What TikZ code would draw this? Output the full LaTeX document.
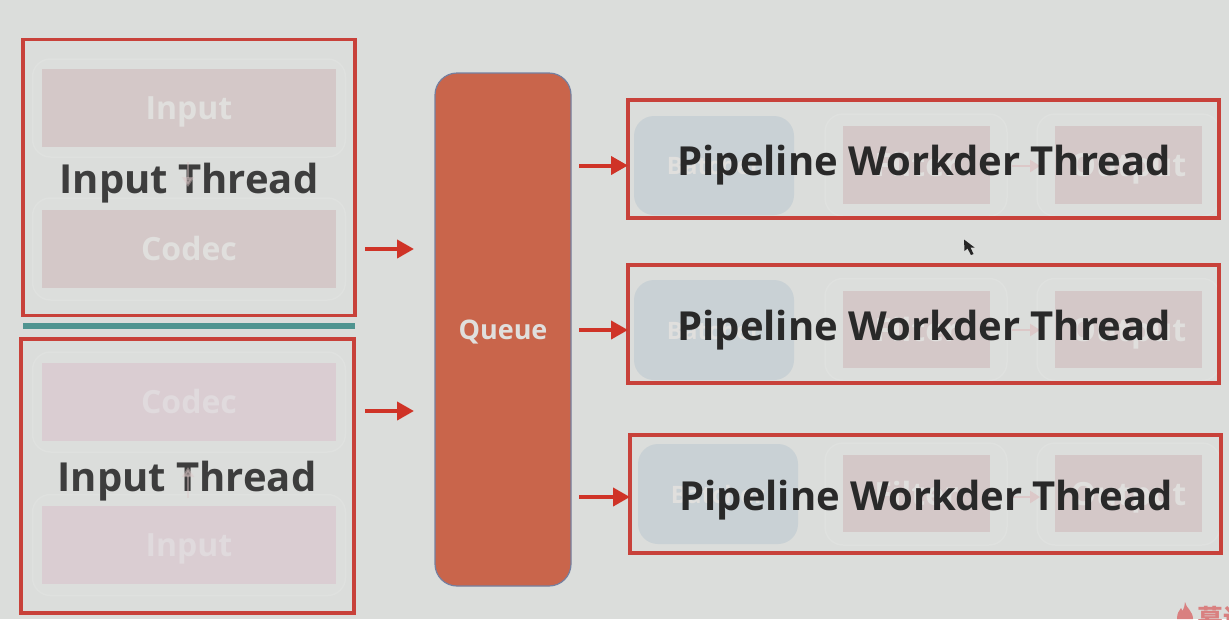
\documentclass[tikz,border=0pt]{standalone}
\usepackage{fontspec}
\setmainfont{Open Sans}
\newfontfamily\cjkfont{Noto Sans CJK SC}
\usetikzlibrary{arrows.meta}

\definecolor{pagegray}{HTML}{DBDDDB}
\definecolor{framered}{HTML}{C8413A}
\definecolor{arrowred}{HTML}{CF3327}
\definecolor{tealbar}{HTML}{4F9490}
\definecolor{queuefill}{HTML}{C9654B}
\definecolor{queueline}{HTML}{7580A0}
\definecolor{pinkone}{HTML}{D4C8C8}
\definecolor{pinktwo}{HTML}{DACDD2}
\definecolor{batchblue}{HTML}{C9D1D5}
\definecolor{ghostfill}{HTML}{DCDEDC}
\definecolor{ghostline}{HTML}{DFE1DF}
\definecolor{fainttext}{HTML}{E0DFDD}
\definecolor{fainttextb}{HTML}{E0DADD}
\definecolor{faintarrow}{HTML}{DCC8C8}
\definecolor{markred}{HTML}{D98080}

\tikzset{
	framebox/.style={draw=framered, line width=3.5pt, outer sep=0pt, inner sep=0pt},
	ghostbox/.style={draw=ghostline, fill=ghostfill, line width=1.5pt, rounded corners=18pt, outer sep=0pt},
	pinkbox/.style={fill=pinkone, outer sep=0pt, inner sep=0pt, text=fainttext, text height=23pt, text depth=0pt, font=\bfseries\fontsize{32}{38}\selectfont},
	pinkboxb/.style={pinkbox, fill=pinktwo, text=fainttextb},
	batchbox/.style={fill=batchblue, rounded corners=20pt, outer sep=0pt, text=fainttext, font=\bfseries\fontsize{24}{30}\selectfont},
	title/.style={font=\bfseries\fontsize{40}{48}\selectfont, inner sep=0pt, anchor=base},
	flow/.style={-{Triangle[length=17pt,width=18pt,fill=arrowred]}, draw=arrowred, line width=4pt},
	faintflow/.style={-{Triangle[length=10pt,width=12pt,fill=faintarrow]}, draw=faintarrow, line width=2.5pt},
}

\begin{document}
\begin{tikzpicture}[x=1pt,y=-1pt]
	\useasboundingbox[fill=pagegray] (0,0) rectangle (1229,619);

	% left side, upper thread
	\node[ghostbox, minimum width=313pt, minimum height=98pt] (g1) at (189,108) {};
	\node[ghostbox, minimum width=313pt, minimum height=102pt] (g2) at (189,249) {};
	\node[pinkbox, minimum width=294pt, minimum height=78pt] (input1) at (189,108) {Input};
	\node[pinkbox, minimum width=294pt, minimum height=78pt] (codec1) at (189,249) {Codec};
	\node[title, text=black!76] (thread1) at (189,193) {Input Thread};
	\coordinate (d1) at (188,162);
	\coordinate (d2) at (188,187);
	\path (d1) edge [faintflow, opacity=0.45] (d2);
	\node[framebox, minimum width=332pt, minimum height=276pt] (left1) at (189,177.5) {};

	\node[fill=tealbar, inner sep=0pt, minimum width=332pt, minimum height=6pt] (bar) at (189,326) {};

	% left side, lower thread
	\node[ghostbox, minimum width=313pt, minimum height=100pt] (g3) at (189,402) {};
	\node[ghostbox, minimum width=313pt, minimum height=101pt] (g4) at (189,545) {};
	\node[pinkboxb, minimum width=294pt, minimum height=78pt] (codec2) at (189,402) {Codec};
	\node[pinkboxb, minimum width=294pt, minimum height=78pt] (input2) at (189,545) {Input};
	\node[title, text=black!76] (thread2) at (187,491) {Input Thread};
	\coordinate (d3) at (188,498);
	\coordinate (d4) at (188,467);
	\path (d3) edge [faintflow, opacity=0.45] (d4);
	\node[framebox, minimum width=333pt, minimum height=274pt] (left2) at (187.5,476) {};

	% queue
	\node[draw=queueline, fill=queuefill, line width=1.2pt, rounded corners=22pt, outer sep=0pt,
		minimum width=136pt, minimum height=513pt, text=fainttext, text height=19pt, text depth=0pt,
		font=\bfseries\fontsize{27}{32}\selectfont] (queue) at (503,329.5) {Queue};

	\coordinate (a1) at (365,249);
	\coordinate (b1) at (414,249);
	\coordinate (a2) at (365,411);
	\coordinate (b2) at (414,411);
	\path (a1) edge [flow] (b1);
	\path (a2) edge [flow] (b2);

	% first pipeline
	\node[batchbox, minimum width=160pt, minimum height=99pt] (batch1) at (714,165.5) {Batcher};
	\node[ghostbox, minimum width=182pt, minimum height=102pt] (g5) at (916,165) {};
	\node[ghostbox, minimum width=183pt, minimum height=102pt] (g6) at (1128.5,165) {};
	\node[pinkbox, minimum width=147pt, minimum height=78pt] (filter1) at (916.5,165) {Filter};
	\node[pinkbox, minimum width=147pt, minimum height=78pt] (output1) at (1128.5,165) {Output};
	\coordinate (e1) at (1012,166);
	\coordinate (f1) at (1040,166);
	\path (e1) edge [faintflow] (f1);
	\node[title, text=black!84] (worker1) at (924,175) {Pipeline Workder Thread};
	\node[framebox, minimum width=591pt, minimum height=118pt] (pipe1) at (923.5,159) {};

	% second pipeline
	\node[batchbox, minimum width=160pt, minimum height=100pt] (batch2) at (714,330) {Batcher};
	\node[ghostbox, minimum width=182pt, minimum height=102pt] (g7) at (916,329.5) {};
	\node[ghostbox, minimum width=183pt, minimum height=102pt] (g8) at (1128.5,329.5) {};
	\node[pinkbox, minimum width=147pt, minimum height=77pt] (filter2) at (916.5,329.5) {Filter};
	\node[pinkbox, minimum width=147pt, minimum height=77pt] (output2) at (1128.5,329.5) {Output};
	\coordinate (e2) at (1012,330);
	\coordinate (f2) at (1040,330);
	\path (e2) edge [faintflow] (f2);
	\node[title, text=black!84] (worker2) at (924,340) {Pipeline Workder Thread};
	\node[framebox, minimum width=591pt, minimum height=118pt] (pipe2) at (923.5,324) {};

	% third pipeline
	\node[batchbox, minimum width=160pt, minimum height=100pt] (batch3) at (718,494) {Batcher};
	\node[ghostbox, minimum width=182pt, minimum height=102pt] (g9) at (916,494) {};
	\node[ghostbox, minimum width=183pt, minimum height=102pt] (g10) at (1128.5,494) {};
	\node[pinkbox, minimum width=147pt, minimum height=77pt] (filter3) at (916.5,493.5) {Filter};
	\node[pinkbox, minimum width=147pt, minimum height=77pt] (output3) at (1128.5,493.5) {Output};
	\coordinate (e3) at (1012,497);
	\coordinate (f3) at (1040,497);
	\path (e3) edge [faintflow] (f3);
	\node[title, text=black!84] (worker3) at (926,510) {Pipeline Workder Thread};
	\node[framebox, minimum width=591pt, minimum height=118pt] (pipe3) at (925.5,494) {};

	% queue to the pipelines
	\coordinate (c1) at (579,165.5);
	\coordinate (c2) at (579,330);
	\coordinate (c3) at (579,497);
	\path (c1) edge [flow] (c1 -| pipe1.west);
	\path (c2) edge [flow] (c2 -| pipe2.west);
	\path (c3) edge [flow] (c3 -| pipe3.west);

	% pointer
	\fill[black!85] (964,239.5) -- (964.5,251) -- (967.5,248.5) -- (971,255) -- (973.5,254) -- (970.5,247.5) -- (974.5,247.5) -- cycle;

	% mark in the corner, cut by the page edge
	\begin{scope}
		\clip (0,0) rectangle (1229,619);
		\fill[markred] (1185,602) .. controls (1186,608) and (1193,611) .. (1193,619) -- (1177,619) .. controls (1177,613) and (1179,611) .. (1181,608) -- (1182.5,611) .. controls (1184,608) and (1185,605) .. (1185,602) -- cycle;
		\node[text=markred, font=\cjkfont\bfseries\fontsize{26}{30}\selectfont, anchor=north west, inner sep=0pt] (mark) at (1197,606) {慕课};
	\end{scope}
\end{tikzpicture}
\end{document}
